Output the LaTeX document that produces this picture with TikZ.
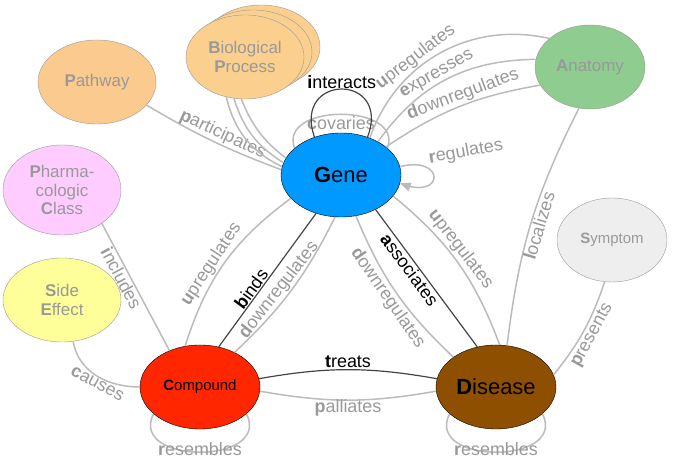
\documentclass[tikz,border=0pt]{standalone}
\usepackage{fontspec}
\setmainfont{Liberation Sans}
\usetikzlibrary{arrows, shapes.geometric, calc}
\definecolor{edgegray}{HTML}{BBBBBB}
\definecolor{textgray}{HTML}{999999}
\definecolor{darkedge}{HTML}{444444}
\newcommand\fl[2]{\textbf{#1}#2}

\begin{document}
\begin{tikzpicture} [x=1bp, y=1bp, align=center,
  meta/.style={ellipse, draw=textgray, minimum width=118bp, minimum height=84bp, inner sep=0pt,
    text=textgray, font=\fontsize{17}{19}\selectfont},
  main/.style={ellipse, draw=black, minimum width=120bp, minimum height=84bp, inner sep=0pt,
    text=black},
  rel/.style={draw=edgegray, line width=1.5pt},
  hub/.style={draw=darkedge, line width=1.2pt},
  lab/.style={text=textgray, font=\fontsize{18}{20}\selectfont, inner sep=1pt},
  dlab/.style={text=black, font=\fontsize{18}{20}\selectfont, inner sep=1pt}]
\useasboundingbox (0, 0) rectangle (685, 465);

\path (341, 290) node[main, fill={rgb,255:red,0;green,153;blue,255}, font=\fontsize{22}{24}\selectfont] (gene) {\fl{G}{ene}}
      (200, 78) node[main, fill={rgb,255:red,255;green,38;blue,0}, font=\fontsize{15}{17}\selectfont] (compound) {\fl{C}{ompound}}
      (496, 78) node[main, fill={rgb,255:red,143;green,79;blue,0}, font=\fontsize{22}{24}\selectfont] (disease) {\fl{D}{isease}}

      (590, 398) node[meta, fill={rgb,255:red,143;green,204;blue,143}, minimum width=110bp] (anatomy) {\fl{A}{natomy}}
      (612, 225) node[meta, fill={rgb,255:red,238;green,238;blue,238}, minimum width=110bp, font=\fontsize{15}{17}\selectfont] (symptom) {\fl{S}{ymptom}}
      (97, 383) node[meta, fill={rgb,255:red,251;green,202;blue,142}] (pathway) {\fl{P}{athway}}
      (62, 275) node[meta, fill={rgb,255:red,255;green,204;blue,255}, minimum height=90bp] (pharma) {\fl{P}{harma-}\\cologic\\\fl{C}{lass}}
      (62, 165) node[meta, fill={rgb,255:red,255;green,255;blue,153}] (side) {\fl{S}{ide}\\\fl{E}{ffect}};

% stacked biological process ellipses
\path (261, 418) node[meta, fill={rgb,255:red,251;green,208;blue,143}] (bp2) {}
      (253, 413) node[meta, fill={rgb,255:red,251;green,208;blue,143}] (bp1) {}
      (245, 408) node[meta, fill={rgb,255:red,251;green,208;blue,143}] (bp) {\fl{B}{iological}\\\fl{P}{rocess}};

% gene self loops
\draw[rel] (gene.150) .. controls (278, 362) and (404, 362) .. node[lab, pos=0.5, below=0pt] {\fl{c}{ovaries}} (gene.30);
\draw[hub] (gene.125) .. controls (292, 392) and (392, 392) .. node[dlab, pos=0.5, above=-1pt] {\fl{i}{nteracts}} (gene.55);
\draw[rel, -triangle 45] (gene.8) .. controls (445, 310) and (445, 265) .. (gene.-8);
\node[lab, rotate=10] (reglab) at (466, 313) {\fl{r}{egulates}};

% gene - anatomy
\draw[rel] (gene.52) to[bend left=42] node[lab, sloped, above, pos=0.4] {\fl{u}{pregulates}} (anatomy.145);
\draw[rel] (gene.42) to[bend left=27] node[lab, sloped, above, pos=0.47] {\fl{e}{xpresses}} (anatomy.172);
\draw[rel] (gene.32) to[bend left=12] node[lab, sloped, above, pos=0.55] {\fl{d}{ownregulates}} (anatomy.200);

% gene - pathway, biological process
\draw[rel] (pathway.-25) to[bend right=5] node[lab, sloped, above, pos=0.55] {\fl{p}{articipates}} (gene.175);
\draw[rel] (bp.-115) to[bend right=25] (gene.172);
\draw[rel] (bp.-105) to[bend right=20] (gene.168);
\draw[rel] (bp.-95) to[bend right=15] (gene.163);

% compound - gene
\draw[rel] (compound.110) to[bend left=18] node[lab, sloped, above, pos=0.45] {\fl{u}{pregulates}} (gene.205);
\draw[hub] (compound.65) to node[dlab, sloped, above, pos=0.4] {\fl{b}{inds}} (gene.237);
\draw[rel] (compound.45) to[bend right=10] node[lab, sloped, above, pos=0.45] {\fl{d}{ownregulates}} (gene.262);

% gene - disease
\draw[rel] (gene.-70) to[bend right=12] node[lab, sloped, below, pos=0.5] {\fl{d}{ownregulates}} (disease.145);
\draw[hub] (gene.-45) to node[dlab, sloped, below, pos=0.4] {\fl{a}{ssociates}} (disease.115);
\draw[rel] (gene.-22) to[bend left=15] node[lab, sloped, above, pos=0.45] {\fl{u}{pregulates}} (disease.85);

% disease neighbours
\draw[rel] (anatomy.-105) to[bend right=10] node[lab, sloped, below, pos=0.5] {\fl{l}{ocalizes}} (disease.75);
\draw[rel] (disease.12) to[bend right=10] node[lab, sloped, below, pos=0.5] {\fl{p}{resents}} (symptom.-100);

% compound neighbours
\draw[rel] (pharma.-40) to node[lab, sloped, below, pos=0.4] {\fl{i}{ncludes}} (compound.130);
\draw[rel] (side.-75) to[out=-80, in=180] node[lab, sloped, below, pos=0.55] {\fl{c}{auses}} (compound.180);

% compound - disease
\draw[hub] (compound.8) to[bend left=10] node[dlab, above, pos=0.5] {\fl{t}{reats}} (disease.172);
\draw[rel] (compound.-4) to[bend right=10] node[lab, below=-2pt, pos=0.5] {\fl{p}{alliates}} (disease.184);

% resembles loops
\draw[rel] (compound.-150) .. controls (128, 0) and (272, 0) .. node[lab, pos=0.5, above=-5pt] {\fl{r}{esembles}} (compound.-30);
\draw[rel] (disease.-150) .. controls (424, 0) and (568, 0) .. node[lab, pos=0.5, above=-5pt] {\fl{r}{esembles}} (disease.-30);

\end{tikzpicture}
\end{document}
